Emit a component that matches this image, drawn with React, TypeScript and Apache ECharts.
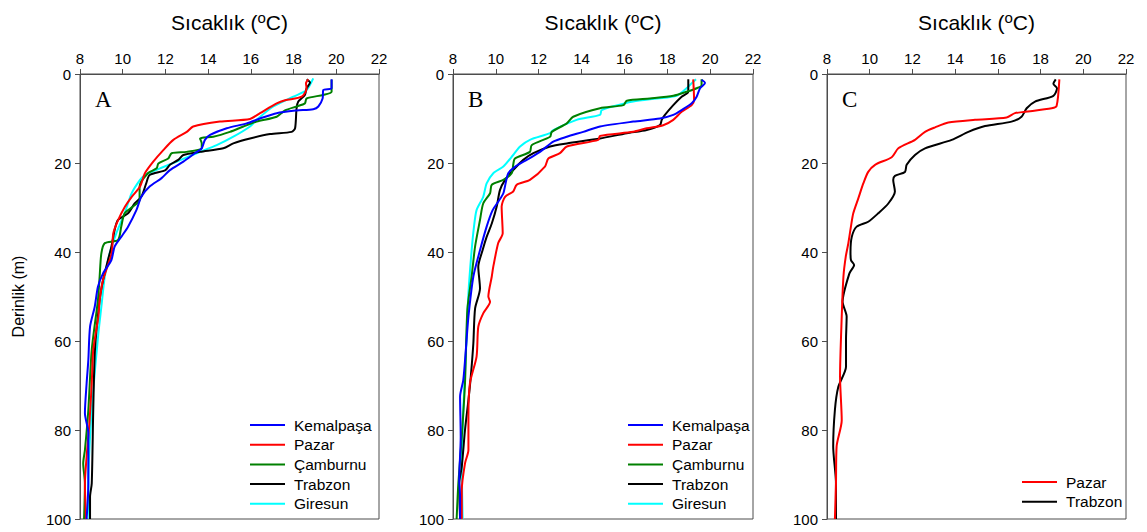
import React, { useEffect, useRef } from "react";
import * as echarts from "echarts";

// Temperature (°C) vs depth (m) profiles: [temperature, depth]
const xTicks = [8, 10, 12, 14, 16, 18, 20, 22];
const yTicks = [0, 20, 40, 60, 80, 100];

const stationsABC = ["Kemalpaşa", "Pazar", "Çamburnu", "Trabzon", "Giresun"];
const stationsC = ["Pazar", "Trabzon"];

const A_kemalpasa: number[][] = [
  [19.78, 1.2], [19.78, 3.2], [19.39, 3.6], [19.36, 5.5], [19.16, 7.3], [18.92, 7.9], [18.14, 8.2],
  [17.21, 8.8], [16.43, 10.0], [15.8, 11.1], [14.87, 12.2], [14.09, 13.7], [13.85, 14.8], [13.7, 16.7],
  [13.38, 17.8], [12.84, 19.7], [12.21, 21.6], [11.82, 23.4], [11.26, 25.3], [10.87, 27.6], [10.64, 30.6],
  [10.25, 34.3], [9.93, 36.6], [9.62, 38.8], [9.47, 41.8], [9.08, 44.8], [8.84, 47.8], [8.69, 52.3],
  [8.47, 56.8], [8.39, 64.3], [8.31, 69.5], [8.23, 76.2], [8.39, 80.7], [8.39, 92], [8.31, 100],
];
const A_pazar: number[][] = [
  [18.69, 1.2], [18.58, 2.1], [18.61, 3.2], [18.38, 5.1], [17.6, 5.9], [17.21, 6.6], [16.43, 8.8],
  [15.96, 10.1], [14.55, 10.7], [13.3, 11.8], [13.0, 13.0], [12.37, 14.8], [11.9, 17.1], [11.43, 19.7],
  [11.04, 22.3], [10.81, 25.3], [10.42, 27.6], [10.11, 29.8], [9.79, 32.8], [9.56, 35.8], [9.48, 40.3],
  [9.08, 46.3], [8.92, 50.8], [8.86, 54.5], [8.62, 62.0], [8.55, 69.5], [8.44, 78.5], [8.31, 86.0],
  [8.23, 92], [8.28, 100],
];
const A_camburnu: number[][] = [
  [19.78, 1.3], [19.78, 4.0], [19.39, 4.7], [18.61, 5.5], [18.53, 6.6], [18.14, 7.3], [17.6, 8.2],
  [17.21, 9.6], [16.27, 10.7], [15.65, 11.8], [15.02, 13.0], [14.24, 14.1], [13.62, 14.5], [13.7, 15.6],
  [13.7, 16.7], [12.99, 17.5], [12.29, 17.8], [12.13, 19.0], [11.67, 20.1], [11.59, 21.2], [11.18, 22.3],
  [10.79, 25.3], [10.79, 28.3], [10.48, 29.8], [10.09, 31.3], [9.93, 34.3], [9.78, 37.3], [9.16, 38.0],
  [9.0, 40.3], [8.92, 45.5], [8.84, 50.8], [8.55, 62], [8.39, 75.5], [8.23, 84.5], [8.15, 87.5],
  [8.23, 92], [8.19, 100],
];
const A_trabzon: number[][] = [
  [18.61, 1.2], [18.77, 1.9], [18.61, 3.2], [18.53, 4.7], [18.22, 6.2], [18.14, 7.7], [18.07, 12.2],
  [17.91, 13.0], [16.9, 13.5], [15.96, 14.5], [15.18, 15.6], [14.71, 16.7], [13.62, 17.5], [12.84, 18.2],
  [12.6, 19.3], [12.21, 20.4], [12.0, 21.6], [11.26, 22.7], [11.1, 24.6], [10.87, 27.6], [10.56, 29.1],
  [10.25, 31.3], [9.78, 32.8], [9.62, 35.1], [9.47, 38.8], [9.31, 41.8], [9.08, 46.3], [8.92, 50.8],
  [8.7, 62], [8.62, 75.5], [8.55, 92], [8.47, 95], [8.47, 100],
];
const A_giresun: number[][] = [
  [18.92, 1.0], [18.61, 3.6], [17.99, 5.1], [17.05, 7.3], [16.27, 10.3], [15.96, 11.8], [15.18, 14.1],
  [14.4, 16.0], [13.46, 17.8], [12.53, 19.7], [11.75, 21.2], [11.04, 22.7], [10.81, 23.8], [10.42, 26.8],
  [10.09, 31.3], [9.7, 35.8], [9.39, 40.3], [9.16, 45.5], [9.0, 52.3], [8.86, 58.3], [8.62, 71],
  [8.47, 81.5], [8.39, 92], [8.44, 100],
];

const B_kemalpasa: number[][] = [
  [19.6, 1.3], [19.76, 2.0], [19.53, 3.2], [19.37, 5.1], [19.14, 6.6], [18.67, 8.1], [18.28, 9.2],
  [17.66, 10.0], [16.41, 10.7], [14.86, 11.8], [14.08, 13.0], [13.31, 14.1], [12.68, 15.2], [12.06, 17.5],
  [11.44, 19.3], [11.0, 20.5], [10.58, 22.3], [10.35, 26.8], [10.11, 28.7], [9.85, 30.6], [9.57, 34.3],
  [9.26, 39.6], [8.95, 45.5], [8.72, 54.5], [8.61, 61.3], [8.48, 68.8], [8.33, 72.5], [8.36, 81.5],
  [8.29, 91.2], [8.33, 95], [8.33, 100],
];
const B_pazar: number[][] = [
  [19.21, 1.2], [19.25, 5.8], [19.14, 7.0], [18.67, 8.5], [18.28, 10.3], [17.81, 11.5], [17.04, 12.2],
  [16.41, 13.0], [14.86, 13.9], [14.78, 14.8], [13.31, 16.3], [12.99, 17.8], [12.45, 19.0], [12.29, 20.8],
  [11.59, 23.8], [10.97, 24.9], [10.81, 26.4], [10.43, 27.6], [10.27, 29.8], [10.32, 35.8], [10.11, 38.0],
  [9.88, 43.3], [9.81, 45.5], [9.65, 50.0], [9.73, 51.2], [9.41, 53.8], [9.18, 56.8], [9.1, 63.5],
  [8.79, 69.5], [8.72, 77.0], [8.72, 84.5], [8.56, 87.5], [8.41, 93.5], [8.41, 100],
];
const B_camburnu: number[][] = [
  [19.6, 1.2], [19.6, 2.5], [19.37, 3.2], [18.9, 4.0], [18.28, 4.9], [17.19, 5.5], [16.11, 6.0],
  [15.95, 7.0], [14.86, 7.7], [13.61, 9.6], [13.31, 11.1], [12.61, 13.0], [12.53, 14.1], [11.67, 16.0],
  [11.59, 17.5], [10.89, 19.0], [10.81, 20.4], [10.74, 22.3], [10.35, 23.8], [9.81, 24.9], [9.73, 26.8],
  [9.41, 29.1], [9.26, 32.8], [9.03, 38.8], [8.87, 45.5], [8.67, 53.0], [8.56, 69.5], [8.41, 81.5],
  [8.25, 92], [8.17, 100],
];
const B_trabzon: number[][] = [
  [18.98, 1.2], [18.98, 4.0], [18.67, 5.1], [18.28, 7.0], [17.89, 9.2], [17.74, 10.3], [17.66, 11.5],
  [17.04, 12.6], [16.11, 13.3], [14.86, 14.5], [13.31, 15.6], [12.53, 16.3], [11.75, 17.8], [11.28, 19.3],
  [10.81, 21.6], [10.43, 23.8], [10.19, 26.1], [10.04, 29.8], [9.81, 33.6], [9.57, 36.6], [9.38, 39.6],
  [9.18, 43.3], [9.26, 48.2], [9.03, 52.7], [8.95, 60.5], [8.83, 68.0], [8.72, 73.3], [8.56, 80],
  [8.41, 88.2], [8.29, 92], [8.33, 100],
];
const B_giresun: number[][] = [
  [19.34, 1.2], [19.14, 2.1], [18.9, 3.2], [18.44, 4.9], [17.51, 5.5], [16.41, 6.2], [15.95, 6.7],
  [14.94, 8.1], [14.86, 9.2], [13.77, 10.3], [12.68, 12.6], [12.53, 13.3], [11.59, 14.8], [11.13, 16.3],
  [10.81, 18.2], [10.35, 20.8], [9.88, 22.3], [9.57, 24.6], [9.41, 27.6], [9.1, 30.6], [8.98, 34.3],
  [8.87, 39.6], [8.72, 49.3], [8.61, 62.0], [8.48, 75.5], [8.41, 87.5], [8.45, 100],
];

const C_pazar: number[][] = [
  [18.88, 1.2], [18.75, 7.2], [18.52, 7.7], [17.27, 8.5], [16.8, 8.8], [16.41, 9.8], [14.93, 10.3],
  [13.68, 10.9], [13.06, 12.0], [12.59, 13.0], [12.12, 14.8], [11.34, 16.7], [11.03, 18.7], [10.25, 20.4],
  [9.93, 22.0], [9.7, 24.6], [9.47, 27.9], [9.23, 31.3], [9.12, 34.3], [9.0, 38.0], [8.88, 41],
  [8.77, 45.5], [8.69, 54.5], [8.61, 68.0], [8.69, 77.8], [8.45, 83.7], [8.42, 92], [8.37, 100],
];
const C_trabzon: number[][] = [
  [18.71, 1.2], [18.6, 2.2], [18.77, 3.2], [18.6, 4.9], [17.74, 6.2], [17.35, 7.7], [17.11, 9.6],
  [16.64, 10.7], [15.4, 11.7], [14.62, 13.0], [13.84, 14.8], [12.59, 16.7], [12.12, 18.2], [11.73, 20.4],
  [11.65, 22.0], [11.18, 22.9], [11.1, 23.8], [11.18, 26.4], [10.87, 29.1], [10.4, 31.3], [9.93, 33.2],
  [9.39, 34.3], [9.16, 36.6], [9.1, 40], [9.12, 41.8], [9.27, 42.9], [9.05, 44.8], [8.73, 51.2],
  [8.92, 54.5], [8.89, 59.8], [8.89, 65.8], [8.53, 70.3], [8.37, 75.5], [8.29, 83.7], [8.42, 92],
  [8.42, 100],
];

const colors: Record<string, string> = {
  "Kemalpaşa": "#0000ff",
  "Pazar": "#ff0000",
  "Çamburnu": "#008000",
  "Trabzon": "#000000",
  "Giresun": "#00ffff",
};

const FONT = 'Arial, "Liberation Sans", sans-serif';
const SERIF = '"Times New Roman", "Liberation Serif", serif';

const panels = [
  { left: 80, width: 299, letter: "A", series: [A_kemalpasa, A_pazar, A_camburnu, A_trabzon, A_giresun], names: stationsABC, legendLeft: 250, legendTop: 417 },
  { left: 453, width: 300, letter: "B", series: [B_kemalpasa, B_pazar, B_camburnu, B_trabzon, B_giresun], names: stationsABC, legendLeft: 628, legendTop: 417 },
  { left: 827, width: 299, letter: "C", series: [C_pazar, C_trabzon], names: stationsC, legendLeft: 1022, legendTop: 474 },
];

export default function App() {
  const ref = useRef<HTMLDivElement>(null);
  useEffect(() => {
    document.body.style.margin = "0";
    if (!ref.current) return;
    const chart = echarts.init(ref.current, undefined, { renderer: "svg" });
    const axisColor = "#4d4d4d";
    const grids: any[] = [];
    const xAxes: any[] = [];
    const yAxes: any[] = [];
    const series: any[] = [];
    const legends: any[] = [];
    const graphics: any[] = [];
    panels.forEach((p, i) => {
      grids.push({
        left: p.left, top: 74, width: p.width, height: 445,
        show: true, borderColor: axisColor, borderWidth: 1, backgroundColor: "transparent",
        containLabel: false, outerBoundsMode: "none",
      });
      xAxes.push({
        gridIndex: i, type: "value", position: "top", min: xTicks[0], max: xTicks[xTicks.length - 1], interval: 2,
        splitLine: { show: false },
        axisLine: { show: true, lineStyle: { color: axisColor, width: 1 } },
        axisTick: { show: true, length: 5, lineStyle: { color: axisColor } },
        axisLabel: { fontSize: 15, color: "#000", fontFamily: FONT, margin: 8 },
        name: "{n|Sıcaklık (}{s|o}{n|C)}",
        nameLocation: "middle", nameGap: 39,
        nameTextStyle: {
          rich: {
            n: { fontSize: 21, fontFamily: FONT, color: "#000" },
            s: { fontSize: 15, fontFamily: FONT, color: "#000", padding: [0, 0, 10, 0] },
          },
        },
      });
      yAxes.push({
        gridIndex: i, type: "value", inverse: true, min: yTicks[0], max: yTicks[yTicks.length - 1], interval: 20,
        splitLine: { show: false },
        axisLine: { show: true, lineStyle: { color: axisColor, width: 1 } },
        axisTick: { show: true, length: 5, lineStyle: { color: axisColor } },
        axisLabel: { fontSize: 15, color: "#000", fontFamily: FONT, margin: 9 },
        name: i === 0 ? "Derinlik (m)" : "",
        nameLocation: "middle", nameGap: 54,
        nameTextStyle: { fontSize: 16, fontFamily: FONT, color: "#000" },
      });
      p.series.forEach((d, k) => {
        const name = p.names[k];
        series.push({
          type: "line", name, xAxisIndex: i, yAxisIndex: i, data: d,
          symbol: "none", showSymbol: false, smooth: 0.25,
          lineStyle: { color: colors[name], width: 2 },
          itemStyle: { color: colors[name] },
          z: 10 - k,
        });
      });
      legends.push({
        orient: "vertical", left: p.legendLeft, top: p.legendTop, data: p.names, padding: 0,
        icon: "rect", itemWidth: 35, itemHeight: 2, itemGap: 3.7, selectedMode: false,
        textStyle: { fontSize: 15.5, fontFamily: FONT, color: "#000", padding: [0, 0, 0, 4] },
      });
      graphics.push({
        type: "text", left: p.left + 15, top: 88,
        style: { text: p.letter, font: `23px ${SERIF}`, fill: "#000" },
      });
    });
    chart.setOption({
      animation: false,
      backgroundColor: "#fff",
      grid: grids,
      xAxis: xAxes,
      yAxis: yAxes,
      series,
      legend: legends,
      graphic: graphics,
    });
    return () => chart.dispose();
  }, []);
  return <div ref={ref} style={{ width: 1147, height: 532 }} />;
}
